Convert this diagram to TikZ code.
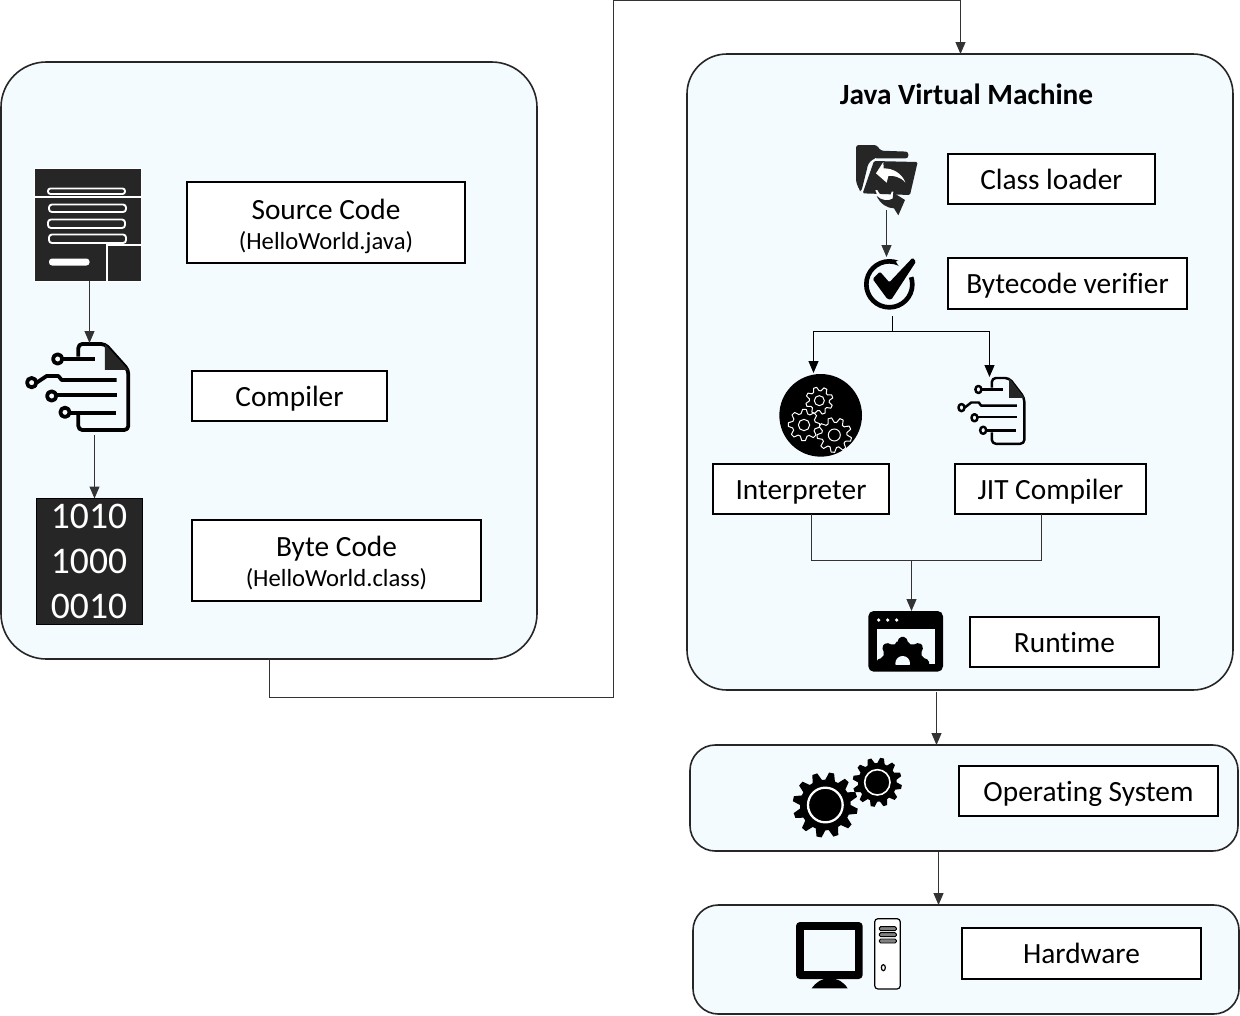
\documentclass[tikz,border=0pt]{standalone}
\usepackage{fontspec}
\setmainfont[Ligatures={NoCommon}]{Carlito}
\usetikzlibrary{arrows.meta,calc}
\definecolor{panelc}{HTML}{F4FBFF}
\definecolor{darkc}{HTML}{262626}
\definecolor{linec}{HTML}{333333}
\tikzset{
  x=0.75pt,y=-0.75pt,
  panel/.style={draw=darkc,line width=1.2pt,fill=panelc,rounded corners=#1,inner sep=0pt,outer sep=0pt},
  tbox/.style={draw=black,line width=1.1pt,fill=white,inner sep=0pt,outer sep=0pt,align=center,font=\fontsize{22}{25}\selectfont},
  sbox/.style={tbox,text height=19pt,text depth=4pt},
  conn/.style={draw=linec,line width=0.75pt},
  arr/.style={conn,-{Triangle[width=7.5pt,length=9pt]}},
  bconn/.style={draw=black,line width=0.75pt},
  barr/.style={bconn,-{Triangle[width=7.5pt,length=9pt]}},
  zoomA/.style={shift={(770,135)},scale=1/3},
  zoomB/.style={shift={(780,600)},scale=1/3},
}
% teeth, r outer, r root, phase
\newcommand\gearloop[4]{(#4:#3) foreach \k in {1,...,#1} { -- ({#4+(\k-1+0.22)*360/#1}:#2) -- ({#4+(\k-1+0.52)*360/#1}:#2) -- ({#4+(\k-1+0.74)*360/#1}:#3) -- ({#4+\k*360/#1}:#3) } -- cycle}
\newcommand\circdoc[4]{%
\begin{scope}[shift={(#1,#2)},xscale=#3,yscale=#4,line width=#3*8.5pt,line join=round]
 \draw[black,rounded corners=3] (205,590)--(205,552)--(285,552)--(355,630)--(355,810)--(205,810)--(205,765);
 \fill[darkc] (285,552)--(355,630)--(285,630)--cycle;
 \draw (143,597) circle (14);
 \draw (158,597)--(255,597);
 \draw (65,668) circle (14);
 \draw (80,668)--(110,648)--(145,648)--(155,660)--(320,660);
 \draw (125,708) circle (14);
 \draw (140,706)--(320,706);
 \draw (165,757) circle (14);
 \draw (180,758)--(318,758);
\end{scope}}
\begin{document}
\begin{tikzpicture}
\useasboundingbox[fill=white] (0,0) rectangle (1240,1015);
% panels
\node[panel=34pt,minimum width=402pt,minimum height=447.75pt] (left) at (269,360.5) {};
\node[panel=30pt,minimum width=409.5pt,minimum height=477pt] (jvm) at (960,372) {};
\node[panel=19pt,minimum width=411pt,minimum height=79.5pt] (os) at (964,798) {};
\node[panel=19pt,minimum width=409.5pt,minimum height=81.75pt] (hw) at (966,959.5) {};
% titles and boxes
\node[font=\fontsize{22}{25}\selectfont\bfseries] (title) at (966.5,94) {Java Virtual Machine};
\node[tbox,minimum width=208.5pt,minimum height=60.75pt] (src) at (326,222.5) {\rule{0pt}{20.5pt}Source Code\\[-2.5pt]{\fontsize{18.5}{21}\selectfont (HelloWorld.java)}};
\node[sbox,minimum width=146.25pt,minimum height=37.5pt] (comp) at (289.5,396) {Compiler};
\node[tbox,minimum width=216.75pt,minimum height=60.75pt] (byte) at (336.5,560.5) {\rule{0pt}{19pt}Byte Code\\[-2.5pt]{\fontsize{18.5}{21}\selectfont (HelloWorld.class)}};
\node[sbox,minimum width=155.25pt,minimum height=37.5pt] (cl) at (1051.5,179) {Class loader};
\node[sbox,minimum width=179.25pt,minimum height=38.25pt] (bv) at (1067.5,283.5) {Bytecode verifier};
\node[sbox,minimum width=132pt,minimum height=37.5pt] (interp) at (801,489) {Interpreter};
\node[sbox,minimum width=143.25pt,minimum height=37.5pt] (jit) at (1050.5,489) {JIT Compiler};
\node[sbox,minimum width=141.75pt,minimum height=37.5pt] (rt) at (1064.5,642) {Runtime};
\node[sbox,minimum width=194.25pt,minimum height=37.5pt] (osb) at (1088.5,791) {Operating System};
\node[sbox,minimum width=179.25pt,minimum height=38.25pt] (hwb) at (1081.5,953.5) {Hardware};

% source document icon
\fill[white] (34,168) rectangle (141.5,282);
\fill[darkc] (35,169) rectangle (140.5,281);
\fill[white] (35,196) rectangle (140.5,198);
\draw[white,line width=1.4pt,rounded corners=1.8pt] (48,188.5) rectangle (125,194);
\draw[white,line width=1.4pt,rounded corners=2.2pt] (49,204.5) rectangle (126,212);
\draw[white,line width=1.4pt,rounded corners=2.2pt] (48,219.5) rectangle (125,228);
\draw[white,line width=1.4pt,rounded corners=2.2pt] (49,234.5) rectangle (126,243);
\fill[white] (106,244) rectangle (108,281);
\fill[white] (106,244) rectangle (140.5,246);
\fill[white,rounded corners=2.3pt] (49,258.5) rectangle (89.5,265.5);
% compiler icons
\circdoc{10}{160}{0.3333}{0.3333}
\circdoc{947.4}{237.3}{0.2168}{0.2549}
% bytes icon
\node[fill=darkc,text=white,draw=black,line width=0.75pt,minimum width=79.5pt,minimum height=94.5pt,inner sep=0pt,outer sep=0pt,align=center,font=\fontsize{28.2}{33.75}\selectfont] (bits) at (89,561.5) {1010\\1000\\0010};
% folder icon
\begin{scope}[zoomA]
 \begin{scope}[shift={(240,15)}]
 \fill[darkc,rounded corners=2pt] (18,15)--(80,15)--(92,32)--(175,35)--(175,55)--(72,55)--(55,70)--(34,155)--(28,150)--(18,125)--cycle;
 \draw[white,line width=0.9pt,rounded corners=6pt] (75,58)--(60,72)--(36,160);
 \fill[darkc,rounded corners=1pt] (72,63)--(203,66)--(180,165)--(38,160)--cycle;
 \fill[white] (78,100)--(100,66)--(101,85) .. controls (130,85) and (155,100) .. (166,127) .. controls (150,110) and (130,106) .. (115,108) -- (110,128) --cycle;
 \fill[white] (76,150) .. controls (76,170) and (105,182) .. (128,174) -- (130,155) -- (125,155)-- (122,166) .. controls (105,172) and (85,165) .. (82,150) -- cycle;
 \fill[darkc] (80,168) .. controls (95,182) and (115,184) .. (128,176) -- (130,158) -- (165,180) -- (145,226) -- (132,205) .. controls (110,205) and (90,190) .. cycle;
 \end{scope}
\end{scope}
% check icon
\begin{scope}[zoomA]
 \draw[black,line width=3.5pt] (358,448) circle (69);
 \fill[panelc] (378,380)--(445,350)--(445,420)--(410,430)--cycle;
 \fill[black,rounded corners=1pt] (308,432)--(330,410)--(358,442)--(428,368)--(438,380)--(364,494)--(352,492)--cycle;
\end{scope}
% interpreter icon
\begin{scope}[zoomA]
 \fill[black] (152,841) circle (124);
 \begin{scope}[shift={(148,797)}]
  \draw[white,line width=0.75pt,line join=round,fill=black] \gearloop{8}{41}{30}{10};
  \draw[white,line width=0.75pt] (0,0) circle (15);
 \end{scope}
 \begin{scope}[shift={(102,870)}]
  \draw[white,line width=0.75pt,line join=round,fill=black] \gearloop{8}{47}{35}{30};
  \draw[white,line width=0.75pt] (0,0) circle (17);
 \end{scope}
 \begin{scope}[shift={(193,900)}]
  \draw[white,line width=0.75pt,line join=round,fill=black] \gearloop{9}{52}{38}{0};
  \draw[white,line width=0.75pt] (0,0) circle (18);
 \end{scope}
\end{scope}
% runtime icon
\begin{scope}[zoomB]
 \fill[black,rounded corners=4pt] (265,33) rectangle (489,215);
 \fill[panelc] (290,87) rectangle (464,192);
 \foreach \dx in {296,323,350} {\fill[white] (\dx,60) circle (5.5);}
 \begin{scope}
  \clip (290,87) rectangle (464,192);
  \begin{scope}[shift={(368,190)}]
   \fill[black,rounded corners=1.5pt] \gearloop{8}{80}{62}{-106.65};
   \fill[panelc] (0,0) circle (22);
  \end{scope}
 \end{scope}
\end{scope}
% OS gears
\begin{scope}[zoomB]
 \begin{scope}[shift={(136,615)}]
  \fill[black] \gearloop{12}{98}{76}{0};
  \draw[white,line width=1.7pt] (0,0) circle (52);
 \end{scope}
 \begin{scope}[shift={(292,547)}]
  \fill[black] \gearloop{12}{74}{58}{0};
  \draw[white,line width=1.2pt] (0,0) circle (38);
 \end{scope}
\end{scope}
% computer icon
\begin{scope}[zoomB]
 \fill[black,rounded corners=3pt] (48,966) rectangle (248,1137);
 \fill[panelc] (72,990) rectangle (224,1112);
 \fill[black] (95,1165) .. controls (110,1145) and (125,1135) .. (149,1135) .. controls (173,1135) and (190,1145) .. (203,1165) -- cycle;
 \draw[black,fill=white,line width=0.9pt,rounded corners=2.5pt] (284,956) rectangle (361,1167);
 \foreach \sy in {980,998,1017} {\draw[black,fill=gray,line width=0.7pt,rounded corners=1pt] (298,\sy) rectangle (349,\sy+12);}
 \draw[black,line width=0.9pt] (310,1103) ellipse (6 and 9);
\end{scope}

% connector anchors
\coordinate (a1) at (269.5,697);
\coordinate (a2) at (613.5,697);
\coordinate (a3) at (613.5,0.5);
\coordinate (a4) at (960.5,0.5);
\coordinate (srcI) at (89.5,281);
\coordinate (compT) at (89.5,343);
\coordinate (compB) at (94.5,435);
\coordinate (clI) at (886.5,210);
\coordinate (bvT) at (886.5,257);
\coordinate (bvB) at (892.5,316);
\coordinate (v) at (892.5,331);
\coordinate (vl) at (813.5,331);
\coordinate (vr) at (989.5,331);
\coordinate (inT) at (813.5,373);
\coordinate (jiT) at (989.5,377);
\coordinate (ma) at (811.5,560);
\coordinate (mb) at (1041.5,560);
\coordinate (mc) at (911.5,560);
\coordinate (rtT) at (911.5,611);
\coordinate (jb) at (936.5,692);
\coordinate (ob) at (938.5,852);
% connectors
\draw[arr] (a1 |- left.south) -- (a1) -- (a2) -- (a3) -- (a4) -- (a4 |- jvm.north);
\draw[arr] (srcI) -- (compT);
\draw[arr] (compB) -- (compB |- bits.north);
\draw[arr] (clI) -- (bvT);
\draw[bconn] (bvB) -- (v);
\draw[barr] (vl) -- (inT);
\draw[barr] (vr) -- (jiT);
\draw[bconn] (vl) -- (vr);
\draw[conn] (ma |- interp.south) -- (ma) -- (mb) -- (mb |- jit.south);
\draw[arr] (mc) -- (rtT);
\draw[arr] (jb) -- (jb |- os.north);
\draw[arr] (ob) -- (ob |- hw.north);
\end{tikzpicture}
\end{document}
